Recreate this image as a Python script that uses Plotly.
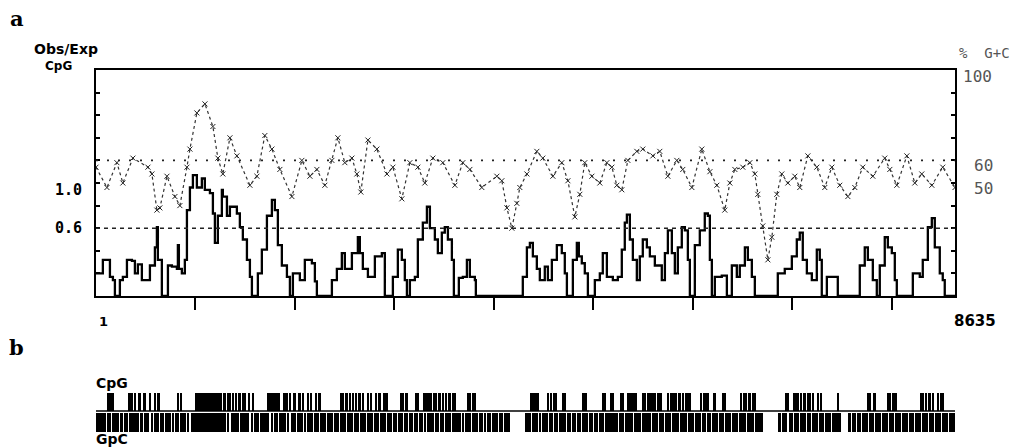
import plotly.graph_objects as go

# ---------------- data ----------------
# panel a: % G+C (right axis), position in bp
gc_pos = [1, 111, 211, 271, 372, 523, 563, 613, 643, 714, 794, 844, 915, 945, 1015, 1096, 1176, 1226,
          1276, 1347, 1417, 1548, 1618, 1698, 1769, 1849, 1970, 2070, 2151, 2221, 2301, 2372, 2432,
          2502, 2573, 2623, 2663, 2734, 2824, 2925, 2985, 3075, 3156, 3236, 3306, 3387, 3487, 3608,
          3688, 3759, 3879, 4030, 4080, 4131, 4181, 4231, 4261, 4332, 4432, 4492, 4593, 4683, 4744,
          4814, 4864, 4914, 4985, 5065, 5136, 5186, 5236, 5286, 5347, 5437, 5497, 5598, 5668, 5749,
          5839, 5899, 5990, 6090, 6171, 6241, 6321, 6372, 6422, 6502, 6573, 6623, 6653, 6703, 6754,
          6794, 6844, 6894, 6955, 7025, 7075, 7156, 7246, 7326, 7397, 7477, 7558, 7628, 7708, 7809,
          7929, 7980, 8050, 8151, 8231, 8301, 8402, 8512, 8635]
gc_pct = [57, 48, 59, 50, 61, 57, 54, 38, 39, 53, 44, 40, 57, 65, 81, 85, 75, 61,
          54, 70, 62, 49, 53, 71, 65, 56, 44, 60, 53, 56, 49, 60, 70,
          59, 61, 54, 46, 69, 65, 54, 57, 43, 59, 57, 50, 61, 59, 49,
          59, 56, 48, 53, 51, 39, 30, 41, 48, 54, 64, 61, 53, 59, 51,
          35, 45, 59, 53, 50, 59, 57, 49, 47, 60, 64, 65, 62, 64, 53,
          60, 56, 48, 65, 55, 49, 38, 50, 56, 57, 59, 54, 45, 31, 16,
          26, 45, 54, 50, 53, 48, 62, 57, 48, 57, 49, 44, 48, 57, 53,
          61, 56, 49, 62, 50, 54, 49, 57, 48]

# panel a: observed/expected CpG (left axis), stepped
oe_pos = [1, 70, 141, 171, 191, 241, 271, 312, 362, 392, 422, 462, 543, 593, 613, 623, 663, 724,
          764, 814, 824, 834, 864, 894, 915, 945, 975, 1015, 1065, 1095, 1146, 1176, 1196, 1226,
          1266, 1276, 1317, 1347, 1417, 1447, 1477, 1518, 1548, 1568, 1628, 1668, 1719, 1769, 1799,
          1829, 1869, 1920, 1950, 1980, 2050, 2100, 2171, 2201, 2221, 2372, 2422, 2472, 2502, 2573,
          2633, 2653, 2683, 2734, 2804, 2874, 2904, 2985, 3035, 3075, 3105, 3126, 3156, 3206, 3236,
          3286, 3327, 3357, 3407, 3437, 3477, 3507, 3538, 3578, 3598, 3648, 3688, 3729, 3759, 3809,
          3819, 4291, 4332, 4362, 4392, 4432, 4462, 4512, 4543, 4583, 4633, 4683, 4713, 4734, 4794,
          4834, 4854, 4884, 4914, 4945, 5015, 5065, 5095, 5136, 5196, 5246, 5286, 5316, 5337, 5367,
          5397, 5437, 5467, 5497, 5538, 5568, 5618, 5688, 5719, 5749, 5789, 5819, 5849, 5889, 5920,
          5950, 5970, 6020, 6070, 6120, 6151, 6171, 6191, 6221, 6291, 6342, 6392, 6442, 6472, 6523,
          6553, 6593, 6623, 6854, 6924, 6995, 7045, 7075, 7105, 7146, 7196, 7246, 7276, 7296, 7347,
          7457, 7678, 7728, 7759, 7809, 7849, 7879, 7929, 7960, 8000, 8030, 8050, 8211, 8281, 8311,
          8362, 8402, 8432, 8482, 8512, 8532, 8635]
oe_val = [0.20, 0.32, 0.17, 0.14, 0, 0.14, 0.17, 0.32, 0.31, 0.20, 0.28, 0.14, 0.27, 0.43, 0.61, 0.32, 0, 0.27,
          0.26, 0.24, 0.45, 0.24, 0.20, 0.32, 0.76, 0.96, 1.07, 0.96, 1.04, 0.94, 0.91, 0.73, 0.47, 0.71,
          0.94, 0.88, 0.71, 0.79, 0.73, 0.61, 0.50, 0.32, 0.17, 0, 0.20, 0.41, 0.71, 0.85, 0.76,
          0.45, 0.27, 0.17, 0, 0.20, 0.14, 0.32, 0.29, 0.13, 0, 0.14, 0.24, 0.38, 0.24, 0.38,
          0.52, 0.38, 0.24, 0.17, 0.35, 0.38, 0, 0.17, 0.41, 0.32, 0.14, 0, 0.14, 0.17, 0.50,
          0.65, 0.79, 0.60, 0.50, 0.38, 0.56, 0.61, 0.50, 0.32, 0, 0.16, 0.17, 0.32, 0.17, 0.14,
          0, 0.17, 0.43, 0.47, 0.35, 0.24, 0.14, 0.26, 0.14, 0.32, 0.45, 0.38, 0.20, 0, 0.32,
          0.47, 0.35, 0.29, 0.20, 0, 0.14, 0.20, 0.38, 0.17, 0.14, 0.17, 0.41, 0.65, 0.72, 0.50,
          0.32, 0.14, 0.35, 0.50, 0.43, 0.35, 0.27, 0.14, 0.38, 0.58, 0.38, 0.20, 0.43, 0.61, 0.58,
          0.32, 0, 0.45, 0.58, 0.73, 0.71, 0.32, 0, 0.17, 0.18, 0, 0.27, 0.17, 0.27, 0.43,
          0.32, 0.17, 0, 0.20, 0.24, 0.35, 0.50, 0.56, 0.32, 0.20, 0.14, 0.41, 0.32, 0, 0.17,
          0, 0.27, 0.43, 0.32, 0.14, 0, 0.27, 0.52, 0.43, 0.38, 0.14, 0, 0.20, 0.17, 0.32,
          0.61, 0.69, 0.43, 0.20, 0.14, 0, 0]

ref_gc = 60      # % G+C reference line
ref_oe = 0.6     # Obs/Exp CpG threshold line

x_ticks = [1000, 2000, 3000, 4000, 5000, 6000, 7000, 8000]
seq_start, seq_end = 1, 8635

# panel b: CpG sites (upper) and GpC sites (lower), bp
cpg_sites = [124, 148, 174, 335, 359, 392, 442, 492, 543, 593, 633, 827, 861, 1296, 1330, 1347, 1380,
             1414, 1447, 1480, 1497, 1541, 1581, 1899, 1917, 1950, 2000, 2050, 2083, 2134, 2168, 2218,
             2251, 2469, 2485, 2520, 2553, 2586, 2620, 2653, 2686, 2737, 2771, 2821, 2854, 2904, 2922,
             3072, 3088, 3123, 3223, 3239, 3306, 3333, 3357, 3374, 3400, 3424, 3457, 3490, 3524, 3558,
             3591, 3608, 3742, 3759, 3792, 3809, 4379, 4395, 4412, 4429, 4445, 4546, 4580, 4613, 4630,
             4897, 4914, 4931, 5098, 5115, 5183, 5199, 5283, 5300, 5350, 5367, 5384, 5400, 5417, 5434,
             5500, 5517, 5551, 5568, 5585, 5601, 5618, 5651, 5668, 5685, 5752, 5786, 5802, 5819, 5836,
             5869, 5902, 5936, 5953, 5970, 6087, 6120, 6137, 6154, 6221, 6305, 6321, 6489, 6522, 6539,
             6573, 6606, 6623, 6941, 6957, 7025, 7042, 7058, 7092, 7125, 7159, 7176, 7209, 7259, 7293,
             7460, 7762, 7779, 7829, 7963, 7980, 8013, 8030, 8047, 8298, 8314, 8348, 8382, 8415, 8465,
             8499, 8515]
cpg_cluster_start = [995, 1716, 4680]
cpg_cluster_end = [1263, 1849, 4730]

gpc_start = [1, 114, 164, 247, 280, 331, 448, 481, 549, 582, 649, 699, 767, 800, 850, 918, 951, 1320,
             1353, 1453, 1554, 1587, 1654, 1755, 1788, 1838, 1923, 1956, 2023, 2089, 2124, 2190, 2257,
             2325, 2391, 2458, 2526, 2592, 2659, 2726, 2793, 2860, 2928, 2991, 3041, 3094, 3145, 3195,
             3245, 3295, 3330, 3413, 3463, 3513, 3581, 3681, 3714, 3782, 3848, 3898, 3932, 3983, 4049,
             4099, 4311, 4385, 4451, 4485, 4552, 4602, 4652, 4736, 4787, 4837, 4887, 4954, 5004, 5054,
             5121, 5255, 5322, 5406, 5490, 5591, 5657, 5725, 5795, 5875, 5956, 6026, 6093, 6143, 6194,
             6260, 6327, 6395, 6461, 6545, 6629, 6854, 6897, 6963, 7014, 7081, 7148, 7199, 7265, 7332,
             7399, 7561, 7601, 7651, 7701, 7768, 7835, 7902, 7969, 8036, 8103, 8170, 8237, 8304, 8371,
             8438, 8505, 8572]
gpc_end = [102, 152, 235, 268, 319, 436, 469, 537, 570, 637, 687, 755, 788, 838, 906, 939, 1308, 1341,
           1441, 1542, 1575, 1642, 1743, 1776, 1826, 1911, 1944, 2011, 2077, 2112, 2178, 2245, 2313,
           2379, 2446, 2514, 2580, 2647, 2714, 2781, 2848, 2916, 2979, 3029, 3082, 3133, 3183, 3233,
           3283, 3318, 3401, 3451, 3501, 3569, 3669, 3702, 3770, 3836, 3886, 3920, 3971, 4037, 4087,
           4161, 4373, 4439, 4473, 4540, 4590, 4640, 4724, 4775, 4825, 4875, 4942, 4992, 5042, 5109,
           5243, 5310, 5394, 5478, 5579, 5645, 5713, 5783, 5863, 5944, 6014, 6081, 6131, 6182, 6248,
           6315, 6383, 6449, 6533, 6617, 6703, 6885, 6951, 7002, 7069, 7136, 7187, 7253, 7320, 7387,
           7494, 7589, 7639, 7689, 7756, 7823, 7890, 7957, 8024, 8091, 8158, 8225, 8292, 8359, 8426,
           8493, 8560, 8635]

# ---------------- layout helpers (pixel -> paper) ----------------
W, H = 1026, 447
L, R = 96, 955


def pxx(p):
    return (p - L) / (R - L)


def pxy(p):
    return 1 - p / H


fig = go.Figure()

# %G+C dotted trace with x marks
fig.add_trace(go.Scatter(
    x=gc_pos, y=gc_pct, yaxis="y3", mode="lines+markers",
    line=dict(color="#333333", width=1.2, dash="dot"),
    marker=dict(symbol="x-thin", size=5, line=dict(width=1, color="#222222")),
    showlegend=False, hoverinfo="skip"))

# Obs/Exp CpG stepped trace
fig.add_trace(go.Scatter(
    x=oe_pos, y=oe_val, mode="lines", line=dict(color="black", width=2.3, shape="hv"),
    showlegend=False, hoverinfo="skip"))

# panel b: GpC (down)
fig.add_trace(go.Bar(
    x=[(s + e) / 2 for s, e in zip(gpc_start, gpc_end)],
    y=[-1.0] * len(gpc_start), base=[-0.08] * len(gpc_start),
    width=[e - s for s, e in zip(gpc_start, gpc_end)],
    marker=dict(color="black", line=dict(width=0)),
    xaxis="x2", yaxis="y2", showlegend=False, hoverinfo="skip"))

# panel b: CpG (up)
fig.add_trace(go.Bar(
    x=cpg_sites, y=[0.95] * len(cpg_sites), base=[0] * len(cpg_sites),
    width=[18] * len(cpg_sites),
    marker=dict(color="black", line=dict(width=0)),
    xaxis="x2", yaxis="y2", showlegend=False, hoverinfo="skip"))
fig.add_trace(go.Bar(
    x=[(s + e) / 2 for s, e in zip(cpg_cluster_start, cpg_cluster_end)],
    y=[0.95] * len(cpg_cluster_start), base=[0] * len(cpg_cluster_start),
    width=[e - s for s, e in zip(cpg_cluster_start, cpg_cluster_end)],
    marker=dict(color="black", line=dict(width=0)),
    xaxis="x2", yaxis="y2", showlegend=False, hoverinfo="skip"))

# panel b: sequence axis line
fig.add_trace(go.Scatter(
    x=[seq_start, seq_end], y=[0, 0], mode="lines", line=dict(color="black", width=1.5),
    xaxis="x2", yaxis="y2", showlegend=False, hoverinfo="skip"))

# reference lines
fig.add_shape(type="line", xref="x", yref="y3", x0=seq_start, x1=seq_end, y0=ref_gc, y1=ref_gc,
              line=dict(color="#222222", width=1.6, dash="2px,9px"))
fig.add_shape(type="line", xref="x", yref="y", x0=seq_start, x1=seq_end, y0=ref_oe, y1=ref_oe,
              line=dict(color="#222222", width=1.6, dash="4px,4px"))

bold = dict(family="DejaVu Sans", size=15, color="black", weight="bold")
mono_b = dict(family="DejaVu Sans Mono", size=15, color="black", weight="bold")
light = dict(family="DejaVu Sans Mono", size=15, color="#555555")
serif_b = dict(family="DejaVu Serif", size=21, color="black", weight="bold")

ann = [
    dict(text="a", x=pxx(17), y=pxy(19), font=serif_b),
    dict(text="b", x=pxx(16), y=pxy(347), font=serif_b),
    dict(text="Obs/Exp", x=pxx(66), y=pxy(49), font=dict(bold, size=14)),
    dict(text="CpG", x=pxx(58), y=pxy(66), font=dict(bold, size=12)),
    dict(text="CpG", x=pxx(95), y=pxy(383), xanchor="left", font=dict(bold, size=14)),
    dict(text="GpC", x=pxx(95), y=pxy(439), xanchor="left", font=dict(bold, size=14)),
    dict(text="%  G+C", x=pxx(958), y=pxy(53), xanchor="left", font=dict(light, size=14)),
    dict(text="100", x=pxx(962), y=pxy(76), xanchor="left", font=dict(light, size=16)),
]
for a in ann:
    a.update(xref="paper", yref="paper", showarrow=False, borderpad=0)
    a.setdefault("xanchor", "center")
    a["yanchor"] = "middle"
    fig.add_annotation(**a)

# axis value labels anchored to data coordinates
for v in [1.0, 0.6]:
    fig.add_annotation(text=f"{v:.1f}", xref="paper", yref="y", x=pxx(84), y=v,
                       yshift=-7 if v == 1.0 else 0, xanchor="right", yanchor="middle",
                       showarrow=False, font=mono_b)
for v in [60, 50]:
    fig.add_annotation(text=str(v), xref="paper", yref="y3", x=pxx(972), y=v, yshift=-5,
                       xanchor="left", yanchor="middle", showarrow=False, font=dict(light, size=16))
fig.add_annotation(text=str(seq_start), xref="x", yref="paper", x=seq_start, y=pxy(321), xshift=1,
                   xanchor="left", yanchor="middle", showarrow=False, font=dict(bold, size=13))
fig.add_annotation(text=str(seq_end), xref="x", yref="paper", x=seq_end, y=pxy(321), xshift=-3,
                   xanchor="left", yanchor="middle", showarrow=False, font=dict(bold, size=15))

fig.update_layout(
    width=W, height=H,
    margin=dict(l=L, r=W - R, t=0, b=0),
    paper_bgcolor="white", plot_bgcolor="white",
    barmode="overlay", bargap=0,
    xaxis=dict(domain=[0, 1], range=[seq_start, seq_end], anchor="y", showline=True, mirror=True,
               linecolor="black", linewidth=2, ticks="outside", ticklen=12, tickwidth=2,
               tickcolor="black", tickvals=x_ticks, showticklabels=False, showgrid=False,
               zeroline=False),
    yaxis=dict(domain=[pxy(296), pxy(70)], range=[0, 2], showline=True, mirror=True,
               linecolor="black", linewidth=2, ticks="inside", ticklen=4, tickwidth=1.5,
               tickcolor="black", tickvals=[0.2, 0.4, 0.6, 0.8, 1.0, 1.2, 1.4, 1.6, 1.8],
               showticklabels=False, showgrid=False, zeroline=False),
    yaxis3=dict(overlaying="y", side="right", range=[0, 100], ticks="inside", ticklen=4,
                tickwidth=1.5, tickcolor="black", tickvals=[10, 20, 30, 40, 50, 60, 70, 80, 90],
                showticklabels=False, showgrid=False, zeroline=False, showline=False),
    xaxis2=dict(domain=[0, 1], range=[seq_start, seq_end], anchor="y2", visible=False),
    yaxis2=dict(domain=[pxy(432), pxy(392)], range=[-1.1, 1.0], visible=False),
)

fig.write_html("out.html", config={"displayModeBar": False},
               post_script="document.body.style.margin='0';document.body.style.overflow='hidden';")
